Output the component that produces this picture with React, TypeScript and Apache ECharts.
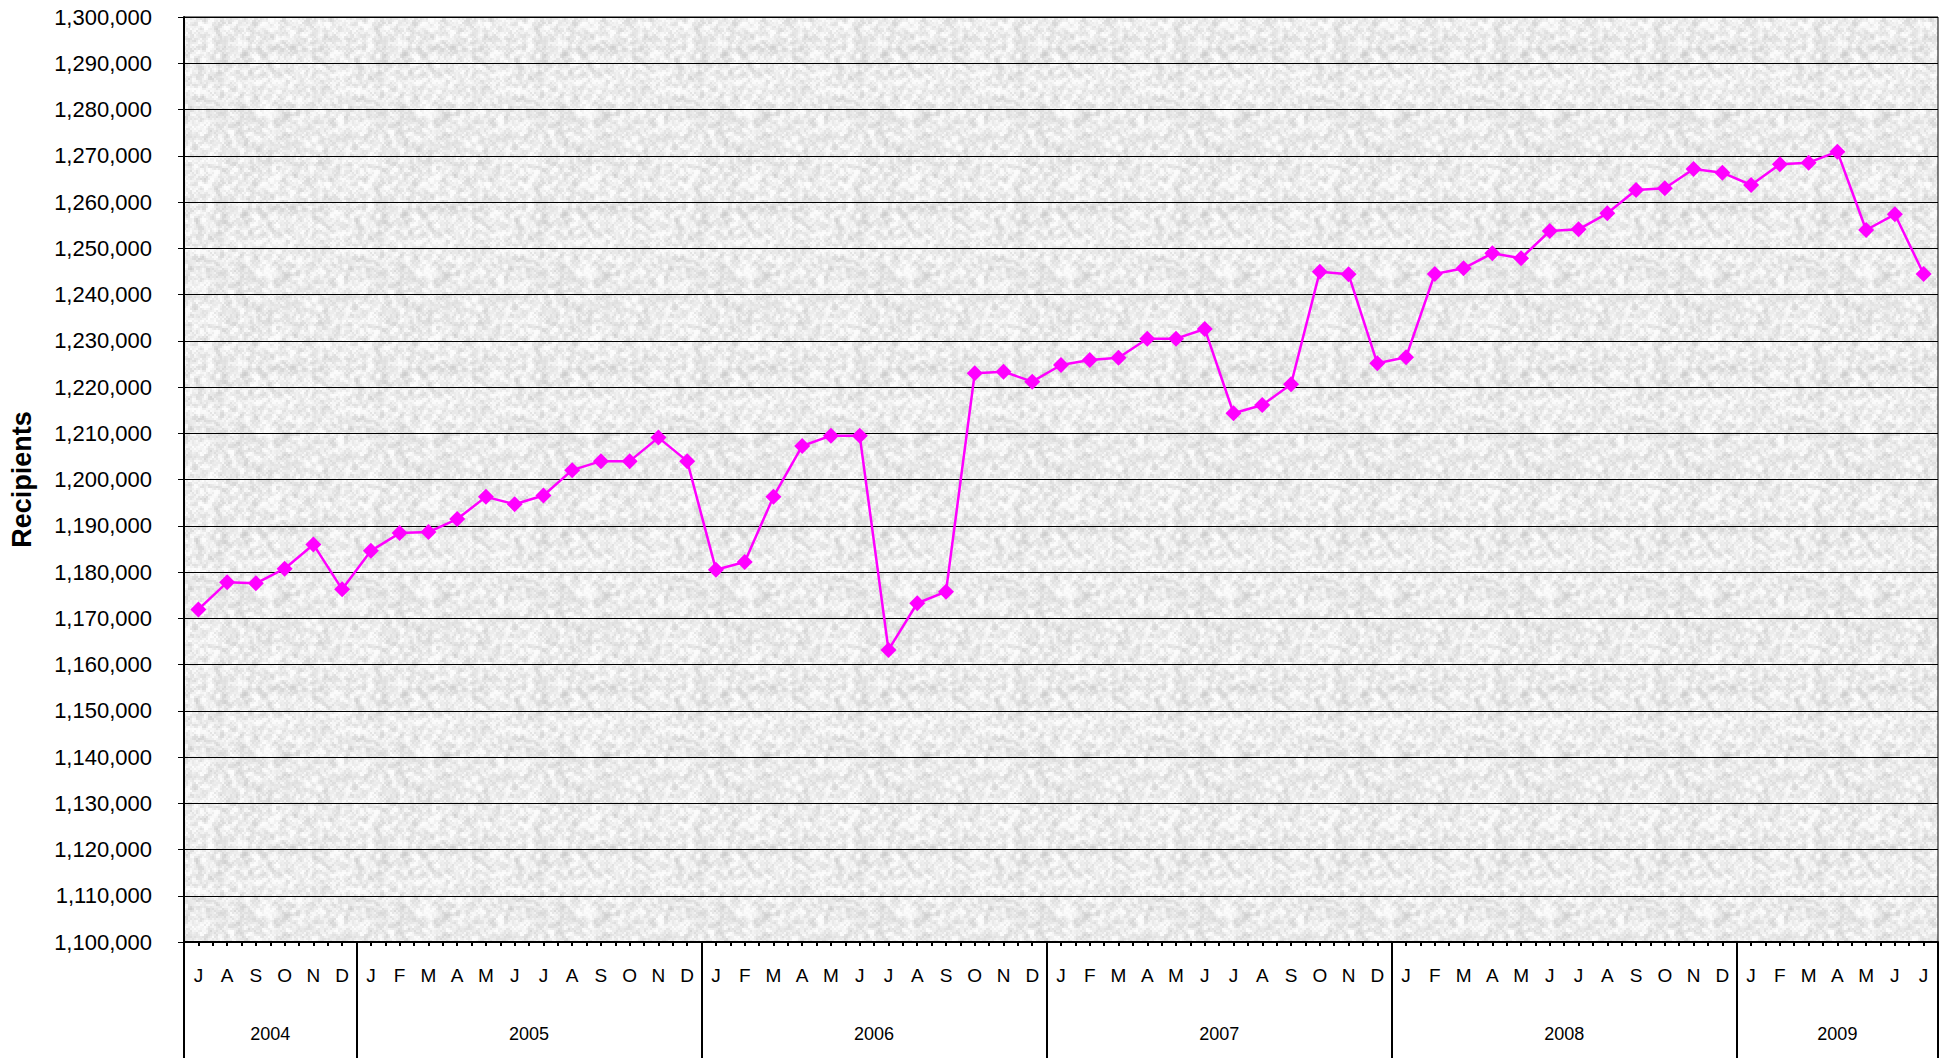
import React, { useEffect, useRef } from "react";
import * as echarts from "echarts";

const monthLabels: string[] = [
  "J", "A", "S", "O", "N", "D",
  "J", "F", "M", "A", "M", "J", "J", "A", "S", "O", "N", "D",
  "J", "F", "M", "A", "M", "J", "J", "A", "S", "O", "N", "D",
  "J", "F", "M", "A", "M", "J", "J", "A", "S", "O", "N", "D",
  "J", "F", "M", "A", "M", "J", "J", "A", "S", "O", "N", "D",
  "J", "F", "M", "A", "M", "J", "J",
];

const years: string[] = ["2004", "2005", "2006", "2007", "2008", "2009"];
const monthsPerYear: number[] = [6, 12, 12, 12, 12, 7];

const recipients: number[] = [
  1171900, 1177760, 1177550, 1180720, 1185960, 1176250,
  1184580, 1188410, 1188630, 1191440, 1196250, 1194660, 1196530, 1202020, 1203970, 1203970, 1209060, 1203970,
  1180500, 1182170, 1196280, 1207250, 1209480, 1209480, 1163150, 1173240, 1175750, 1222970, 1223320, 1221160,
  1224760, 1225840, 1226340, 1230450, 1230450, 1232550, 1214320, 1216110, 1220590, 1244940, 1244370, 1225130,
  1226430, 1244440, 1245670, 1248910, 1247830, 1253730, 1254100, 1257560, 1262600, 1262960, 1267140, 1266340,
  1263680, 1268150, 1268500, 1270880, 1253950, 1257340, 1244440,
];

const yMin = 1100000;
const yMax = 1300000;
const yStep = 10000;

const FONT = 'Arial, "Liberation Sans", sans-serif';

// decorative granite-like texture for the plot background (deterministic hash, not data)
function makeTexture(): HTMLCanvasElement | null {
  try {
    const size = 160;
    const cell = 2;
    const n = size / cell;
    const c = document.createElement("canvas");
    c.width = size;
    c.height = size;
    const ctx = c.getContext("2d");
    if (!ctx) return null;
    const hash = (x: number, y: number) => {
      let h = (x * 374761393 + y * 668265263) | 0;
      h = (h ^ (h >>> 13)) * 1274126177;
      h = h ^ (h >>> 16);
      return ((h >>> 0) % 1000) / 1000;
    };
    const raw: number[] = [];
    for (let y = 0; y < n; y++) for (let x = 0; x < n; x++) raw.push(hash(x, y));
    for (let y = 0; y < n; y++) {
      for (let x = 0; x < n; x++) {
        let s = 0;
        for (let dy = -1; dy <= 1; dy++)
          for (let dx = -1; dx <= 1; dx++)
            s += raw[((y + dy + n) % n) * n + ((x + dx + n) % n)] * (dx === 0 && dy === 0 ? 2 : 1);
        s /= 10;
        const v = Math.round(235 + (s - 0.5) * 70 + (raw[y * n + x] - 0.5) * 14);
        const g = Math.max(185, Math.min(252, v));
        ctx.fillStyle = `rgb(${g},${g},${g})`;
        ctx.fillRect(x * cell, y * cell, cell, cell);
      }
    }
    return c;
  } catch (e) {
    return null;
  }
}

export default function App() {
  const ref = useRef<HTMLDivElement>(null);

  useEffect(() => {
    if (!ref.current) return;
    const chart = echarts.init(ref.current, undefined, { renderer: "svg" });

    const nMonths = monthLabels.length;
    const halfSlots = nMonths * 2 + 1;
    const yearAxisData: string[] = new Array(halfSlots).fill("");
    const yearCenters = new Set<number>();
    const yearBounds = new Set<number>();
    let start = 0;
    monthsPerYear.forEach((cnt, i) => {
      const center = start * 2 + cnt;
      yearAxisData[center] = years[i];
      yearCenters.add(center);
      yearBounds.add(start * 2);
      start += cnt;
    });
    yearBounds.add(nMonths * 2);

    const halfData: string[] = new Array(halfSlots).fill("");

    const tex = makeTexture();
    const plotBg: any = tex ? { image: tex, repeat: "repeat" } : "#eaeaea";

    chart.setOption({
      animation: false,
      backgroundColor: "#ffffff",
      grid: {
        left: 179,
        right: 10,
        top: 17,
        bottom: 116,
        show: true,
        backgroundColor: plotBg,
        borderColor: "#000000",
        borderWidth: 1,
      },
      xAxis: [
        {
          type: "category",
          data: monthLabels,
          boundaryGap: true,
          position: "bottom",
          axisLine: { show: true, lineStyle: { color: "#000", width: 2 } },
          axisTick: { show: false },
          axisLabel: {
            interval: 0,
            color: "#000",
            fontFamily: FONT,
            fontSize: 19,
            margin: 24,
          },
          splitLine: { show: false },
        },
        {
          type: "category",
          data: halfData,
          boundaryGap: false,
          position: "bottom",
          axisLine: { show: false },
          axisTick: {
            show: true,
            interval: 0,
            length: 4,
            lineStyle: { color: "#000", width: 2 },
          },
          axisLabel: { show: false },
          splitLine: { show: false },
        },
        {
          type: "category",
          data: yearAxisData,
          boundaryGap: false,
          position: "bottom",
          axisLine: { show: false },
          axisTick: {
            show: true,
            interval: (idx: number) => yearBounds.has(idx),
            length: 120,
            lineStyle: { color: "#000", width: 2 },
          },
          axisLabel: {
            interval: (idx: number) => yearCenters.has(idx),
            color: "#000",
            fontFamily: FONT,
            fontSize: 18,
            margin: 83,
          },
          splitLine: { show: false },
        },
      ],
      yAxis: {
        type: "value",
        min: yMin,
        max: yMax,
        interval: yStep,
        name: "Recipients",
        nameLocation: "middle",
        nameRotate: 90,
        nameGap: 149,
        nameTextStyle: {
          color: "#000",
          fontFamily: FONT,
          fontWeight: "bold",
          fontSize: 27,
        },
        axisLine: { show: true, lineStyle: { color: "#000", width: 2 } },
        axisTick: { show: true, inside: false, length: 6, lineStyle: { color: "#000", width: 1 } },
        axisLabel: {
          color: "#000",
          fontFamily: FONT,
          fontSize: 22,
          margin: 32,
          formatter: (v: number) => v.toLocaleString("en-US"),
        },
        splitLine: { show: true, lineStyle: { color: "#000", width: 1 } },
      },
      series: [
        {
          type: "line",
          xAxisIndex: 0,
          data: recipients,
          symbol: "diamond",
          symbolSize: 16,
          lineStyle: { color: "#ff00ff", width: 2.5 },
          itemStyle: { color: "#ff00ff" },
        },
      ],
    });

    return () => chart.dispose();
  }, []);

  return (
    <div
      ref={ref}
      style={{ position: "absolute", left: 0, top: 0, width: 1948, height: 1058 }}
    />
  );
}
